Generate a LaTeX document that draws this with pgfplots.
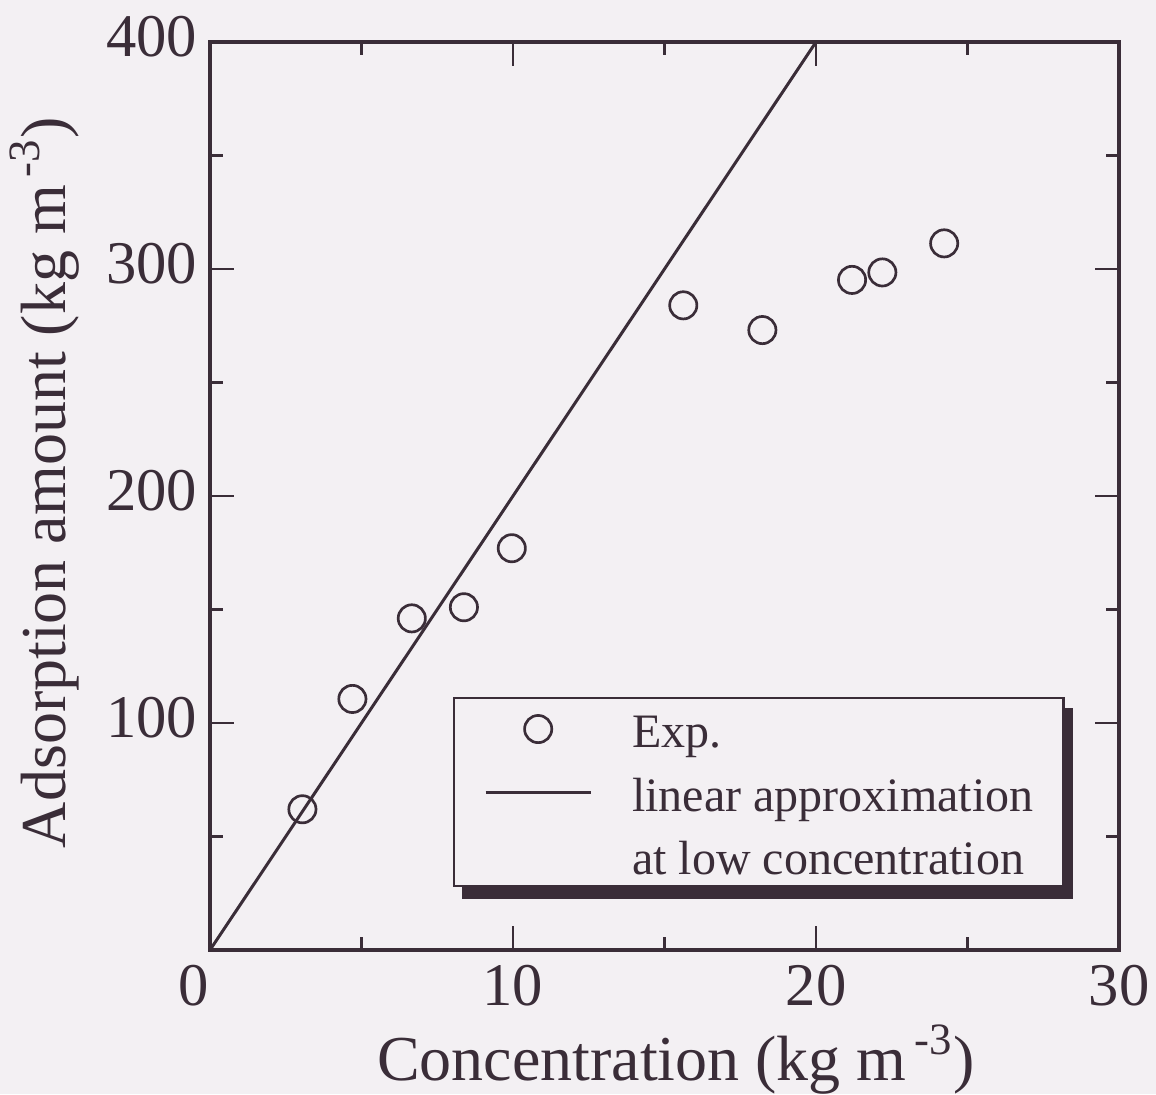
\documentclass[border=0pt]{standalone}
\usepackage{fontspec}
\setmainfont{Liberation Serif}
\usepackage{pgfplots}
\pgfplotsset{compat=1.18}
\definecolor{fg}{RGB}{58,45,56}
\definecolor{bg}{RGB}{243,240,243}

\pgfplotsset{
  legmark/.style={legend image code/.code={\draw[mark repeat=2,mark phase=2,##1] plot coordinates {(0pt,0pt) (13.125pt,0pt) (26.25pt,0pt)};}},
  legline/.style={legend image code/.code={\draw[##1] (0pt,0pt) -- (26.25pt,0pt);}},
}

\pgfplotstableread{
x y
3.05 62.0
4.70 110.6
6.66 146.1
8.38 151.0
9.96 177.0
15.62 284.0
18.23 273.1
21.19 295.2
22.19 298.5
24.23 311.3
}\expdata

\begin{document}
\begin{tikzpicture}
\fill[bg] (-52.5pt,-36pt) rectangle (236.5pt,237.5pt);
\path[use as bounding box] (-52.5pt,-36pt) rectangle (236.5pt,237.5pt);
\begin{axis}[
  at={(0pt,0pt)}, anchor=south west,
  scale only axis, width=227.25pt, height=227pt,
  xmin=0, xmax=30, ymin=0, ymax=400,
  xtick={0,10,20,30}, xticklabels={\kern-8pt 0,10,20,30},
  ytick={100,200,300,400}, yticklabels={100,200,300,400},
  minor xtick={5,15,25}, minor ytick={50,150,250,350},
  tick align=inside,
  major tick length=6pt, minor tick length=3.25pt,
  tick style={fg, line width=0.65pt},
  axis line style={fg, line width=1.1pt},
  ticklabel style={font=\fontsize{15.15}{18}\selectfont, text=fg, inner sep=0pt},
  xticklabel style={yshift=-3.5pt},
  yticklabel style={xshift=-3pt, yshift=1.25pt},
  xlabel={Concentration (kg m\hspace{0.12em}\textsuperscript{-3})},
  ylabel={Adsorption amount (kg m\hspace{0.12em}\textsuperscript{-3})},
  label style={font=\fontsize{16}{19}\selectfont, text=fg},
  xlabel style={at={(axis description cs:0.5127,-0.1432)}, anchor=base},
  ylabel style={at={(axis description cs:-0.1595,0.515)}, anchor=base},
  legend style={name=leg, at={(axis description cs:0.2673,0.2786)}, anchor=north west,
    draw=fg, line width=0.6pt, fill=bg, inner xsep=7.5pt, inner ysep=0pt,
    row sep=0.4pt, column sep=10pt,
    font=\fontsize{12}{14}\selectfont, text=fg,
    nodes={inner sep=0pt, text height=12.4pt, text depth=3pt}},
  legend cell align=left,
]
\addplot[only marks, mark=o, mark size=3.4pt, mark options={fg, line width=0.67pt}, legmark]
  table {\expdata};
\addlegendentry{Exp.}
\addplot[fg, line width=0.75pt, no marks, legline]
  coordinates {(0,0) (20,400)};
\addlegendentry{linear approximation}
\addlegendimage{empty legend}
\addlegendentry{at low concentration}
\end{axis}
\fill[fg] ([xshift=2.2pt]leg.south west) rectangle ([xshift=2.2pt,yshift=-2.8pt]leg.south east);
\fill[fg] ([yshift=-2.8pt]leg.north east) rectangle ([xshift=2.2pt]leg.south east);
\end{tikzpicture}
\end{document}
